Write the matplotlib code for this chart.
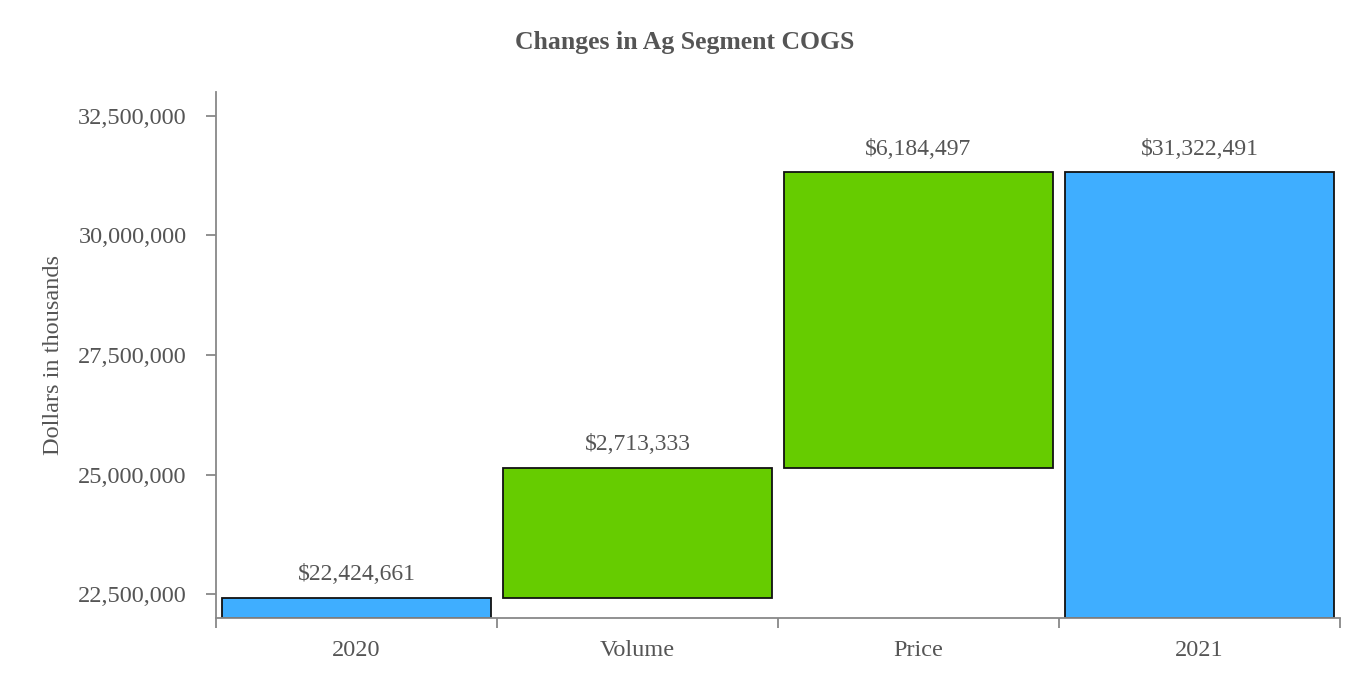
import matplotlib
matplotlib.use("Agg")
import matplotlib.pyplot as plt
import numpy as np

categories = ["2020", "Volume", "Price", "2021"]
values = [22424661, 2713333, 6184497, 31322491]
kinds = ["total", "delta", "delta", "total"]
labels = ["$22,424,661", "$2,713,333", "$6,184,497", "$31,322,491"]
yticks = [22500000, 25000000, 27500000, 30000000, 32500000]

plt.rcParams['font.family'] = ['Liberation Serif', 'DejaVu Serif']
TEXT = "#555555"
AX = "#888888"
BLUE = "#3FAEFF"
GREEN = "#66CC00"

fig = plt.figure(figsize=(13.7, 6.9), dpi=100)
ax = fig.add_axes([216/1370, 1-618/690, (1340-216)/1370, (618-92)/690])

ymin, ymax = 22000000, 33000000
running = 0
for i, (v, k) in enumerate(zip(values, kinds)):
    if k == "total":
        bottom = ymin
        top = v
        running = v
        color = BLUE
    else:
        bottom = running
        top = running + v
        running = top
        color = GREEN
    ax.bar(i, top - bottom, bottom=bottom, width=0.96, color=color,
           edgecolor="#111111", linewidth=1.3, zorder=2)
    ax.annotate(labels[i], (i, top), xytext=(0, 9), textcoords="offset points",
                ha="center", va="bottom", fontsize=17, color=TEXT)

ax.set_xlim(-0.5, len(categories) - 0.5)
ax.set_ylim(ymin, ymax)
ax.set_yticks(yticks)
ax.set_yticklabels([f"{t:,}" for t in yticks])
ax.set_xticks(np.arange(len(categories) + 1) - 0.5)
ax.set_xticklabels([])
ax.set_xticks(np.arange(len(categories)), minor=True)
ax.set_xticklabels(categories, minor=True)
ax.tick_params(axis="x", which="major", length=7, width=1.3, color=AX, direction="out")
ax.tick_params(axis="x", which="minor", length=0, pad=16, labelsize=17.5, labelcolor=TEXT)
ax.tick_params(axis="y", length=7, width=1.3, color=AX, pad=14, labelsize=17.5, labelcolor=TEXT)

for s in ["top", "right"]:
    ax.spines[s].set_visible(False)
for s in ["left", "bottom"]:
    ax.spines[s].set_color(AX)
    ax.spines[s].set_linewidth(1.3)

ax.set_ylabel("Dollars in thousands", fontsize=17.5, color=TEXT, labelpad=10)
fig.text(0.5, 1 - 42/690, "Changes in Ag Segment COGS", ha="center", va="center",
         fontsize=18.5, fontweight="bold", color=TEXT)

fig.savefig("out.png", dpi=100)
